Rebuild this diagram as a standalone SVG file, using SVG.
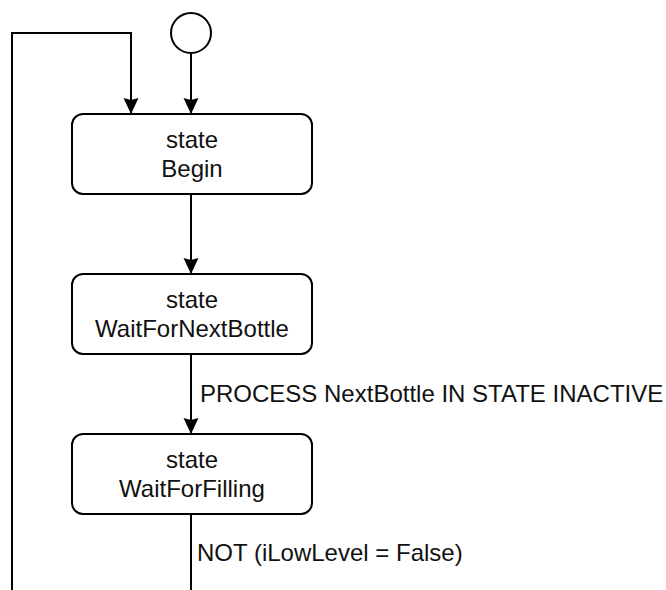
<svg xmlns="http://www.w3.org/2000/svg" width="666" height="590" viewBox="0 0 666 590">
<style>
.box{fill:#fff;stroke:#000;stroke-width:2}
.edge{fill:none;stroke:#000;stroke-width:2;marker-end:url(#arr)}
text{font-family:"Liberation Sans",Arial,sans-serif;font-size:24px;fill:#111}
.c{text-anchor:middle}
</style>
<defs>
<marker id="arr" markerUnits="userSpaceOnUse" markerWidth="18" markerHeight="16" refX="16" refY="8" orient="auto">
<path d="M0,0.5 L16,8 L0,15.5 L2,8 z" fill="#000"/>
</marker>
</defs>
<rect width="666" height="590" fill="#fff"/>
<g id="connectors">
<path class="edge" d="M191,54 V114"/>
<path class="edge" d="M191,194 V274"/>
<path class="edge" d="M191,354 V434"/>
<path class="edge" d="M191,514 V640 H12 V33 H131 V114"/>
<text x="200" y="402">PROCESS NextBottle IN STATE INACTIVE</text>
<text x="197" y="561">NOT (iLowLevel = False)</text>
</g>
<g id="start">
<circle cx="191" cy="33" r="20" class="box"/>
</g>
<g id="Begin">
<rect class="box" x="72" y="114" width="240" height="80" rx="11"/>
<text class="c" x="192" y="148">state</text>
<text class="c" x="192" y="177">Begin</text>
</g>
<g id="WaitForNextBottle">
<rect class="box" x="72" y="274" width="240" height="80" rx="11"/>
<text class="c" x="192" y="308">state</text>
<text class="c" x="192" y="337">WaitForNextBottle</text>
</g>
<g id="WaitForFilling">
<rect class="box" x="72" y="434" width="240" height="80" rx="11"/>
<text class="c" x="192" y="468">state</text>
<text class="c" x="192" y="497">WaitForFilling</text>
</g>
</svg>
